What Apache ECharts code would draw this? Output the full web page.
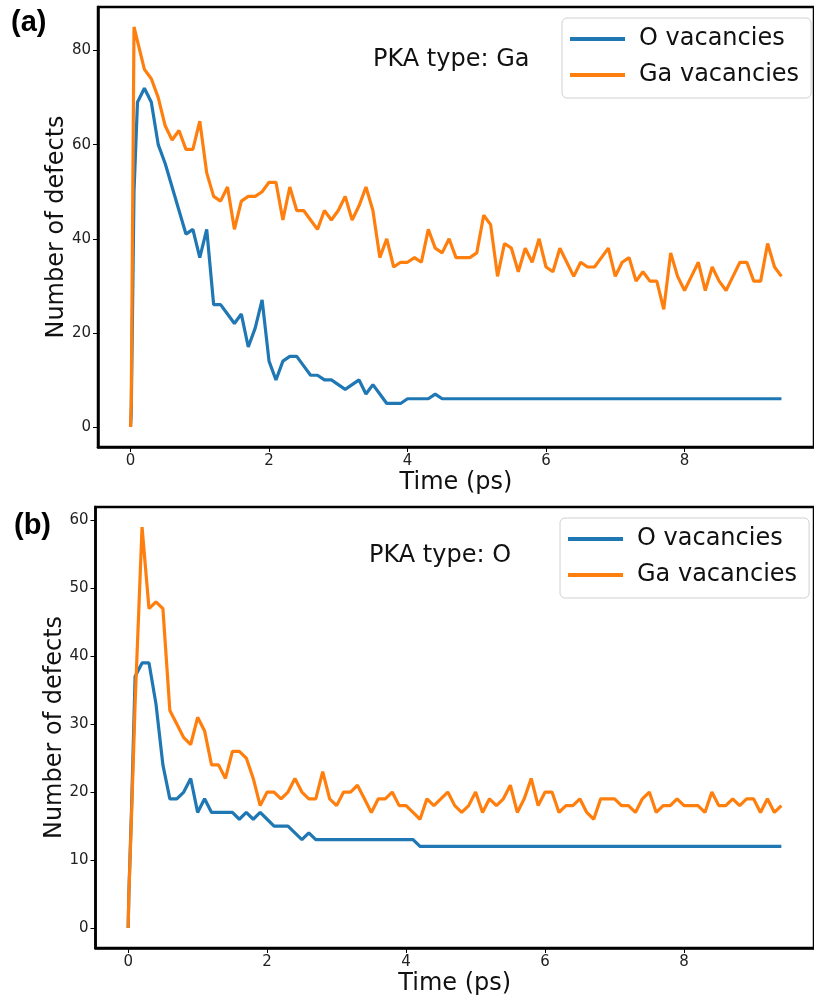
<!DOCTYPE html>
<html><head><meta charset="utf-8">
<script src="https://cdn.jsdelivr.net/npm/echarts@6/dist/echarts.min.js"></script>
<style>html,body{margin:0;padding:0;background:#fff}#c{width:814px;height:997px}</style>
</head><body><div id="c"></div>
<script>
// Time (ps)
const time = [0,0.01,0.05,
0.1,0.2,0.3,0.4,0.5,0.6,0.7,0.8,0.9,
1.0,1.1,1.2,1.3,1.4,1.5,1.6,1.7,1.8,1.9,
2.0,2.1,2.2,2.3,2.4,2.5,2.6,2.7,2.8,2.9,
3.0,3.1,3.2,3.3,3.4,3.5,3.6,3.7,3.8,3.9,
4.0,4.1,4.2,4.3,4.4,4.5,4.6,4.7,4.8,4.9,
5.0,5.1,5.2,5.3,5.4,5.5,5.6,5.7,5.8,5.9,
6.0,6.1,6.2,6.3,6.4,6.5,6.6,6.7,6.8,6.9,
7.0,7.1,7.2,7.3,7.4,7.5,7.6,7.7,7.8,7.9,
8.0,8.1,8.2,8.3,8.4,8.5,8.6,8.7,8.8,8.9,
9.0,9.1,9.2,9.3,9.4];

// Panel (a): PKA type Ga
const oVacA = [0,3,50,
69,72,69,60,56,51,46,41,42,
36,42,26,26,24,22,24,17,21,27,
14,10,14,15,15,13,11,11,10,10,
9,8,9,10,7,9,7,5,5,5,
6,6,6,6,7,6,6,6,6,6,
6,6,6,6,6,6,6,6,6,6,
6,6,6,6,6,6,6,6,6,6,
6,6,6,6,6,6,6,6,6,6,
6,6,6,6,6,6,6,6,6,6,
6,6,6,6,6];
const gaVacA = [0,5,85,
82,76,74,70,64,61,63,59,59,
65,54,49,48,51,42,48,49,49,50,
52,52,44,51,46,46,44,42,46,44,
46,49,44,47,51,46,36,40,34,35,
35,36,35,42,38,37,40,36,36,36,
37,45,43,32,39,38,33,38,35,40,
34,33,38,35,32,35,34,34,36,38,
32,35,36,31,33,31,31,25,37,32,
29,32,35,29,34,31,29,32,35,35,
31,31,39,34,32];

// Panel (b): PKA type O
const oVacB = [0,5,18,
37,39,39,33,24,19,19,20,22,
17,19,17,17,17,17,16,17,16,17,
16,15,15,15,14,13,14,13,13,13,
13,13,13,13,13,13,13,13,13,13,
13,13,12,12,12,12,12,12,12,12,
12,12,12,12,12,12,12,12,12,12,
12,12,12,12,12,12,12,12,12,12,
12,12,12,12,12,12,12,12,12,12,
12,12,12,12,12,12,12,12,12,12,
12,12,12,12,12];
const gaVacB = [0,5,17,
33,59,47,48,47,32,30,28,27,
31,29,24,24,22,26,26,25,22,18,
20,20,19,20,22,20,19,19,23,19,
18,20,20,21,19,17,19,19,20,18,
18,17,16,19,18,19,20,18,17,18,
20,17,19,18,19,21,17,19,22,18,
20,20,17,18,18,19,17,16,19,19,
19,18,18,17,19,20,17,18,18,19,
18,18,18,17,20,18,18,19,18,19,
19,17,19,17,18];

const xTicks = [0,2,4,6,8];
const yTicksA = [0,20,40,60,80];
const yTicksB = [0,10,20,30,40,50,60];
const seriesNames = ['O vacancies','Ga vacancies'];
const panelLabels = ['(a)','(b)'];
const pkaLabels = ['PKA type: Ga','PKA type: O'];
const xName = 'Time (ps)';
const yName = 'Number of defects';
const colors = ['#1f77b4','#ff7f0e'];

const FONT = 'DejaVu Sans';
function pairs(t, v){ return t.map((x,i)=>[x, v[i]]); }

function xAxis(grid){
  return {type:'value', gridIndex:grid, min:-0.47, max:9.87,
    axisLine:{show:true, onZero:false, lineStyle:{color:'#000', width:2.5}},
    axisTick:{show:true, customValues:xTicks, length:5, lineStyle:{color:'#000', width:1}},
    axisLabel:{customValues:xTicks, fontSize:15, color:'#222', margin:7, fontFamily:FONT},
    splitLine:{show:false},
    name:xName, nameLocation:'middle', nameGap:24, nameMoveOverlap:false,
    nameTextStyle:{fontSize:24, color:'#111', fontFamily:FONT, verticalAlign:'top'}};
}
function yAxis(grid, min, max, ticks){
  return {type:'value', gridIndex:grid, min:min, max:max,
    axisLine:{show:true, onZero:false, lineStyle:{color:'#000', width:2.5}},
    axisTick:{show:true, customValues:ticks, length:5, lineStyle:{color:'#000', width:1}},
    axisLabel:{customValues:ticks, fontSize:15, color:'#222', margin:7, fontFamily:FONT},
    splitLine:{show:false},
    name:yName, nameLocation:'middle', nameGap:29, nameMoveOverlap:false,
    nameTextStyle:{fontSize:24, color:'#111', fontFamily:FONT}};
}
function line(name, data, color, xi, yi){
  return {type:'line', name:name, xAxisIndex:xi, yAxisIndex:yi, data:data,
    symbol:'none', smooth:false, lineStyle:{color:color, width:3.2}, itemStyle:{color:color},
    clip:true, animation:false};
}
function legend(left, top){
  return {data:seriesNames, orient:'vertical', left:left, top:top,
    icon:'rect', itemWidth:55, itemHeight:4, itemGap:12,
    padding:[9,12,11,8], backgroundColor:'#fff', borderColor:'#d0d0d0', borderWidth:1, borderRadius:5,
    textStyle:{fontSize:24, color:'#111', fontFamily:FONT, padding:[0,0,0,9]},
    selectedMode:false};
}

const chart = echarts.init(document.getElementById('c'), null, {renderer:'canvas'});
chart.setOption({
  backgroundColor:'#fff',
  animation:false,
  grid:[
    {left:98, top:7, width:726, height:440, show:true, borderColor:'#000', borderWidth:2.5, backgroundColor:'transparent'},
    {left:95.5, top:507, width:726, height:443, show:true, borderColor:'#000', borderWidth:2.5, backgroundColor:'transparent'}
  ],
  xAxis:[xAxis(0), xAxis(1)],
  yAxis:[yAxis(0,-4.25,89.25,yTicksA), yAxis(1,-2.95,61.95,yTicksB)],
  legend:[legend(562,18), legend(560,518)],
  title:[
    {text:panelLabels[0], left:6, top:3, textStyle:{fontSize:29, fontWeight:'bold', color:'#000', fontFamily:'Liberation Sans'}},
    {text:panelLabels[1], left:9, top:506, textStyle:{fontSize:29, fontWeight:'bold', color:'#000', fontFamily:'Liberation Sans'}},
    {text:pkaLabels[0], left:368, top:43, textStyle:{fontSize:24, fontWeight:'normal', color:'#111', fontFamily:FONT}},
    {text:pkaLabels[1], left:364, top:539, textStyle:{fontSize:24, fontWeight:'normal', color:'#111', fontFamily:FONT}}
  ],
  series:[
    line(seriesNames[0], pairs(time, oVacA), colors[0], 0, 0),
    line(seriesNames[1], pairs(time, gaVacA), colors[1], 0, 0),
    line(seriesNames[0], pairs(time, oVacB), colors[0], 1, 1),
    line(seriesNames[1], pairs(time, gaVacB), colors[1], 1, 1)
  ]
});
</script></body></html>
